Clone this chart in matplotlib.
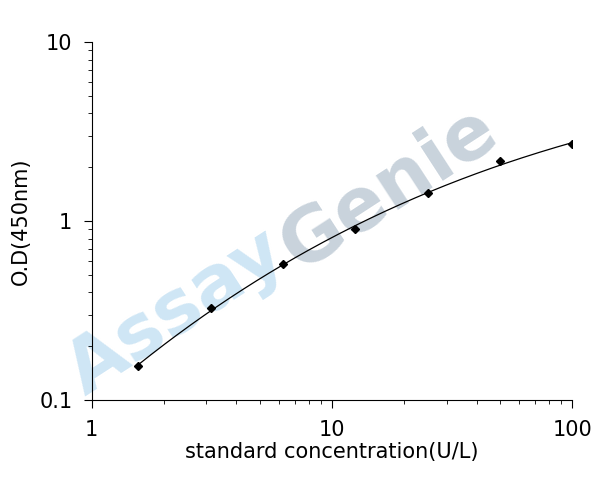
import numpy as np
import matplotlib
matplotlib.use("Agg")
import matplotlib.pyplot as plt

conc = [1.5625, 3.125, 6.25, 12.5, 25, 50, 100]
od = [0.155, 0.327, 0.575, 0.90, 1.43, 2.16, 2.69]

fig = plt.figure(figsize=(6.08, 4.97), dpi=100)
ax = fig.add_axes([0.151, 0.195, 0.79, 0.72])
ax.patch.set_alpha(0)

# smooth curve through the standards (cubic fit in log-log space)
lx, ly = np.log10(conc), np.log10(od)
coef = np.polyfit(lx, ly, 3)
xs = np.linspace(lx[0], lx[-1], 200)
ax.plot(10 ** xs, 10 ** np.polyval(coef, xs), color="black", lw=0.9)
ax.plot(conc, od, "D", color="black", ms=4)

ax.set_xscale("log")
ax.set_yscale("log")
ax.set_xlim(1, 100)
ax.set_ylim(0.1, 10)
ax.set_xticks([1, 10, 100])
ax.set_xticklabels(["1", "10", "100"])
ax.set_yticks([0.1, 1, 10])
ax.set_yticklabels(["0.1", "1", "10"])
ax.spines["top"].set_visible(False)
ax.spines["right"].set_visible(False)
ax.tick_params(which="both", direction="out", labelsize=15, pad=8)
ax.tick_params(which="major", length=6)
ax.tick_params(which="minor", length=3)
ax.set_xlabel("standard concentration(U/L)", fontsize=15, labelpad=2)
ax.set_ylabel("O.D(450nm)", fontsize=15, labelpad=6)

# watermark, behind the plot
fig.text(0.29, 0.37, "Assay", fontsize=54, fontweight="bold", color="#cfe6f5",
         rotation=33, ha="center", va="center", zorder=-1)
fig.text(0.64, 0.62, "Genie", fontsize=54, fontweight="bold", color="#c9d3dc",
         rotation=33, ha="center", va="center", zorder=-1)

fig.savefig("out.png", dpi=100)
